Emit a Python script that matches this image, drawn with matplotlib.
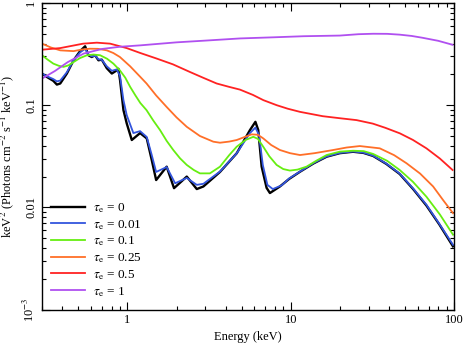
import matplotlib
matplotlib.use("Agg")
import matplotlib.pyplot as plt
from matplotlib.ticker import LogLocator, NullFormatter, FixedLocator, FixedFormatter

plt.rcParams['font.family'] = ['Liberation Serif', 'DejaVu Serif']
plt.rcParams['mathtext.fontset'] = 'stix'

# tau_e = 0
e0 = [0.30, 0.321, 0.352, 0.37, 0.388, 0.426, 0.468, 0.514, 0.551, 0.577, 0.605, 0.634, 0.665, 0.697,
      0.748, 0.803, 0.861, 0.881, 0.902, 0.946, 0.991, 1.064, 1.196, 1.314, 1.41, 1.50, 1.74, 1.93,
      2.31, 2.66, 2.92, 3.69, 4.67, 5.63, 6.08, 6.33, 6.64, 7.12, 7.46, 8.59, 9.8, 11.4, 13.8, 16.6,
      20.0, 24.1, 27.9, 32.0, 38.5, 46.5, 56.2, 67.8, 81.3, 98.6]
f0 = [0.204, 0.189, 0.173, 0.159, 0.163, 0.204, 0.275, 0.339, 0.377, 0.308, 0.296, 0.308, 0.275, 0.279,
      0.230, 0.204, 0.219, 0.227, 0.175, 0.0894, 0.0662, 0.0456, 0.0533, 0.0473, 0.029, 0.0185, 0.025, 0.0154,
      0.020, 0.0151, 0.016, 0.0222, 0.0338, 0.057, 0.0687, 0.057, 0.025, 0.0155, 0.0138, 0.016, 0.019, 0.0223,
      0.0269, 0.0313, 0.0339, 0.035, 0.0341, 0.0318, 0.0266, 0.0212, 0.0151, 0.0104, 0.0068, 0.00415]

# tau_e = 0.01
e1 = [0.30, 0.321, 0.352, 0.37, 0.388, 0.426, 0.468, 0.514, 0.551, 0.577, 0.605, 0.634, 0.665, 0.697,
      0.748, 0.803, 0.861, 0.902, 0.946, 0.991, 1.088, 1.196, 1.314, 1.41, 1.50, 1.74, 1.96, 2.31, 2.66,
      2.92, 3.69, 4.67, 5.63, 6.08, 6.40, 6.75, 7.20, 7.77, 8.80, 9.8, 11.4, 13.8, 16.6, 20.0, 24.1, 27.9,
      32.0, 38.5, 46.5, 56.2, 67.8, 81.3, 98.6]
f1 = [0.204, 0.192, 0.180, 0.171, 0.174, 0.210, 0.275, 0.329, 0.356, 0.315, 0.300, 0.305, 0.281, 0.278,
      0.240, 0.217, 0.224, 0.192, 0.112, 0.0798, 0.0533, 0.0557, 0.0488, 0.0325, 0.0222, 0.0248, 0.0172,
      0.0194, 0.0166, 0.017, 0.0224, 0.0338, 0.0533, 0.0603, 0.0509, 0.026, 0.0166, 0.0151, 0.0164, 0.0192,
      0.0224, 0.0271, 0.0315, 0.0341, 0.0352, 0.0343, 0.0320, 0.0268, 0.0214, 0.0153, 0.0106, 0.0069, 0.0043]

# tau_e = 0.1
e2 = [0.30, 0.325, 0.352, 0.38, 0.406, 0.435, 0.468, 0.51, 0.565, 0.62, 0.681, 0.75, 0.821, 0.90, 0.97,
      1.04, 1.12, 1.20, 1.31, 1.44, 1.585, 1.74, 1.91, 2.1, 2.31, 2.55, 2.78, 3.2, 3.69, 4.2, 4.67, 5.3,
      5.9, 6.3, 6.79, 7.4, 8.2, 9.0, 9.89, 11.0, 12.5, 14.3, 16.6, 20.0, 24.1, 28.0, 32.0, 39.0, 46.5,
      56.0, 67.8, 82.0, 98.6]
f2 = [0.308, 0.279, 0.255, 0.243, 0.237, 0.245, 0.264, 0.288, 0.308, 0.313, 0.308, 0.285, 0.255, 0.219,
      0.186, 0.151, 0.1245, 0.105, 0.0894, 0.0708, 0.057, 0.0447, 0.0364, 0.0302, 0.026, 0.0232, 0.0215,
      0.0215, 0.025, 0.0324, 0.0392, 0.0457, 0.049, 0.0468, 0.0392, 0.0316, 0.026, 0.0237, 0.0229, 0.0234,
      0.025, 0.0285, 0.0325, 0.0351, 0.0358, 0.0355, 0.0333, 0.0285, 0.0232, 0.0178, 0.0127, 0.0085, 0.0054]

# tau_e = 0.25
e3 = [0.30, 0.34, 0.388, 0.468, 0.53, 0.59, 0.66, 0.748, 0.82, 0.90, 1.04, 1.20, 1.31, 1.5, 1.74, 2.0,
      2.31, 2.78, 3.36, 3.69, 4.2, 4.67, 5.77, 6.3, 6.79, 7.6, 8.59, 9.9, 11.4, 14.0, 18.2, 22.0, 26.5,
      35.1, 43.0, 51.2, 62.0, 74.5, 86.0, 98.6]
f3 = [0.40, 0.367, 0.344, 0.338, 0.351, 0.357, 0.356, 0.344, 0.324, 0.296, 0.24, 0.189, 0.163, 0.1245,
      0.096, 0.0759, 0.0614, 0.0499, 0.0439, 0.0429, 0.044, 0.0456, 0.0518, 0.0513, 0.0473, 0.0407, 0.0364,
      0.0339, 0.0325, 0.0339, 0.0364, 0.0385, 0.0398, 0.0378, 0.0324, 0.027, 0.0214, 0.016, 0.0117, 0.00877]

# tau_e = 0.5
e4 = [0.30, 0.388, 0.536, 0.65, 0.784, 0.99, 1.2, 1.51, 1.9, 2.42, 2.9, 3.52, 4.2, 4.89, 5.87, 6.8, 8.2,
      9.6, 11.4, 15.7, 20.0, 25.3, 31.8, 38.0, 46.6, 56.0, 67.8, 82.0, 98.0]
f4 = [0.349, 0.362, 0.40, 0.409, 0.40, 0.362, 0.324, 0.286, 0.251, 0.211, 0.186, 0.163, 0.151, 0.142,
      0.126, 0.112, 0.10, 0.0923, 0.086, 0.078, 0.0745, 0.0714, 0.066, 0.060, 0.053, 0.0457, 0.0378, 0.030,
      0.0232]

# tau_e = 1
e5 = [0.30, 0.36, 0.43, 0.54, 0.7, 0.9, 1.2, 2.0, 3.0, 4.9, 8.0, 12.0, 20.0, 26.0, 32.0, 39.0, 46.5, 55.0,
      64.0, 80.0, 98.0]
f5 = [0.182, 0.216, 0.263, 0.32, 0.355, 0.373, 0.385, 0.412, 0.4285, 0.45, 0.462, 0.473, 0.48, 0.495,
      0.50, 0.499, 0.49, 0.476, 0.457, 0.4266, 0.39]

series = [(e0, f0), (e1, f1), (e2, f2), (e3, f3), (e4, f4), (e5, f5)]
labels = [r'$\tau_{\rm e}$ = 0', r'$\tau_{\rm e}$ = 0.01', r'$\tau_{\rm e}$ = 0.1',
          r'$\tau_{\rm e}$ = 0.25', r'$\tau_{\rm e}$ = 0.5', r'$\tau_{\rm e}$ = 1']
colors = ['#000000', '#3355dd', '#66ee11', '#ff6f28', '#ff2222', '#b050f0']
widths = [1.7, 1.3, 1.3, 1.3, 1.3, 1.3]

fig = plt.figure(figsize=(4.63, 3.44), dpi=100)
ax = fig.add_axes([42/463, 1-309.5/344, (454-42)/463, (309.5-3)/344])

for (e, f), lab, c, w in zip(series, labels, colors, widths):
    ax.plot(e, f, color=c, lw=w, label=lab, solid_joinstyle='round')

ax.set_xscale('log')
ax.set_yscale('log')
ax.set_xlim(0.3, 100)
ax.set_ylim(1e-3, 1)

ax.xaxis.set_major_locator(FixedLocator([1, 10, 100]))
ax.xaxis.set_major_formatter(FixedFormatter(['1', '10', '100']))
ax.xaxis.set_minor_locator(LogLocator(base=10, subs=range(2, 10)))
ax.xaxis.set_minor_formatter(NullFormatter())
ax.yaxis.set_major_locator(FixedLocator([1e-3, 0.01, 0.1, 1]))
ax.yaxis.set_major_formatter(FixedFormatter([r'10$^{-3}$', '0.01', '0.1', '1']))
ax.yaxis.set_minor_locator(LogLocator(base=10, subs=range(2, 10)))
ax.yaxis.set_minor_formatter(NullFormatter())

ax.tick_params(which='both', direction='in', top=True, right=True, labelsize=9, width=0.8)
ax.tick_params(which='major', length=6)
ax.tick_params(which='minor', length=3)
for lab in ax.get_yticklabels():
    lab.set_rotation(90)
    lab.set_va('center')
for sp in ax.spines.values():
    sp.set_linewidth(1.0)

ax.set_xlabel('Energy (keV)', fontsize=9, labelpad=3)
ax.set_ylabel(r'keV$^2$ (Photons cm$^{-2}$ s$^{-1}$ keV$^{-1}$)', fontsize=9, labelpad=4)

ax.legend(loc='lower left', bbox_to_anchor=(0.002, 0.01), frameon=False, fontsize=9.5,
          handlelength=2.6, handletextpad=0.6, labelspacing=0.22, borderaxespad=0.2)

fig.savefig('out.png', dpi=100)
